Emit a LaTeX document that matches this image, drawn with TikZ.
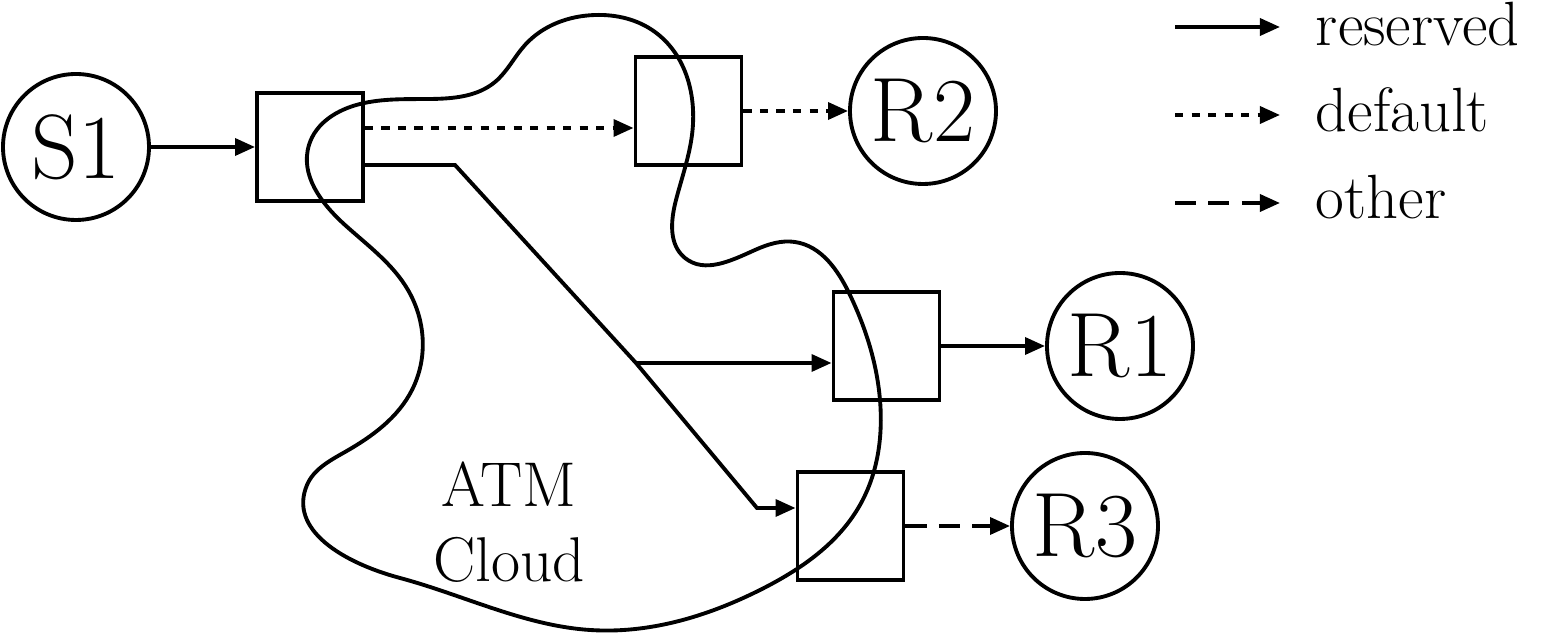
\documentclass[tikz,border=0pt]{standalone}
\usepackage{fontspec}
\usetikzlibrary{arrows.meta, hobby}

\tikzset{
  host/.style={draw, circle, minimum size=1.46cm, inner sep=0pt,
    font=\fontsize{26}{30}\selectfont},
  switchbox/.style={draw, rectangle, minimum width=1.06cm, minimum height=1.08cm},
  reserved/.style={-{Triangle[length=5.7pt,width=4.8pt]}},
  default/.style={reserved, dash pattern=on 2.3pt off 2.4pt},
  other/.style={reserved, dash pattern=on 6pt off 3.5pt},
  legendtext/.style={anchor=mid west, inner sep=0pt, font=\fontsize{17.8}{21}\selectfont}
}

\begin{document}
\begin{tikzpicture}[line width=1.1pt]
  \useasboundingbox (0,0) rectangle (15.43,-6.33);

  % ATM cloud
  \draw[closed hobby] plot coordinates {
    (3.60,-1.04) (4.30,-0.99) (4.95,-0.82) (5.25,-0.45)
    (5.95,-0.15) (6.55,-0.32) (6.92,-1.35) (6.76,-2.00)
    (6.85,-2.58) (7.55,-2.50) (7.95,-2.42) (8.50,-2.95)
    (8.80,-4.00) (8.60,-5.05) (7.60,-5.90)
    (5.90,-6.30) (4.00,-5.78) (3.07,-4.85)
    (3.45,-4.52) (4.12,-3.90) (4.08,-2.90)
    (3.45,-2.25) (3.09,-1.45)};
  \node[align=center, font=\fontsize{18}{21.5}\selectfont] (atm) at (5.09,-5.22) {ATM\\Cloud};

  % Hosts and switches
  \node[host] (S1) at (0.76,-1.47) {S1};
  \node[switchbox] (swA) at (3.10,-1.47) {};
  \node[switchbox] (swB) at (6.885,-1.11) {};
  \node[host] (R2) at (9.23,-1.11) {R2};
  \node[switchbox] (swC) at (8.865,-3.46) {};
  \node[host] (R1) at (11.20,-3.46) {R1};
  \node[switchbox] (swD) at (8.505,-5.26) {};
  \node[host] (R3) at (10.85,-5.26) {R3};

  % Connections
  \draw[reserved] (S1) -- (swA);
  \draw[default] ([yshift=0.19cm]swA.east) -- ([yshift=0.19cm]swA.east -| swB.west);
  \draw[default] (swB) -- (R2);
  \coordinate (kink) at (4.55,-1.65);
  \coordinate (fork) at (6.36,-3.63);
  \coordinate (drop) at (7.57,-5.08);
  \draw[reserved] ([yshift=-0.18cm]swA.east) -- (kink) -- (fork) -- (drop) -- (drop -| swD.west);
  \draw[reserved] (fork) -- (fork -| swC.west);
  \draw[reserved] (swC) -- (R1);
  \draw[other] (swD) -- (R3);

  % Legend
  \node[legendtext] (lres) at (13.14,-0.38) {reserved};
  \node[legendtext] (ldef) at (13.14,-1.24) {default};
  \node[legendtext] (loth) at (13.14,-2.11) {other};
  \coordinate (lres0) at (11.75,-0.27);
  \coordinate (ldef0) at (11.75,-1.15);
  \coordinate (loth0) at (11.75,-2.03);
  \draw[reserved] (lres0) -- (lres0 -| 12.80,0);
  \draw[default] (ldef0) -- (ldef0 -| 12.80,0);
  \draw[other] (loth0) -- (loth0 -| 12.80,0);
\end{tikzpicture}
\end{document}
